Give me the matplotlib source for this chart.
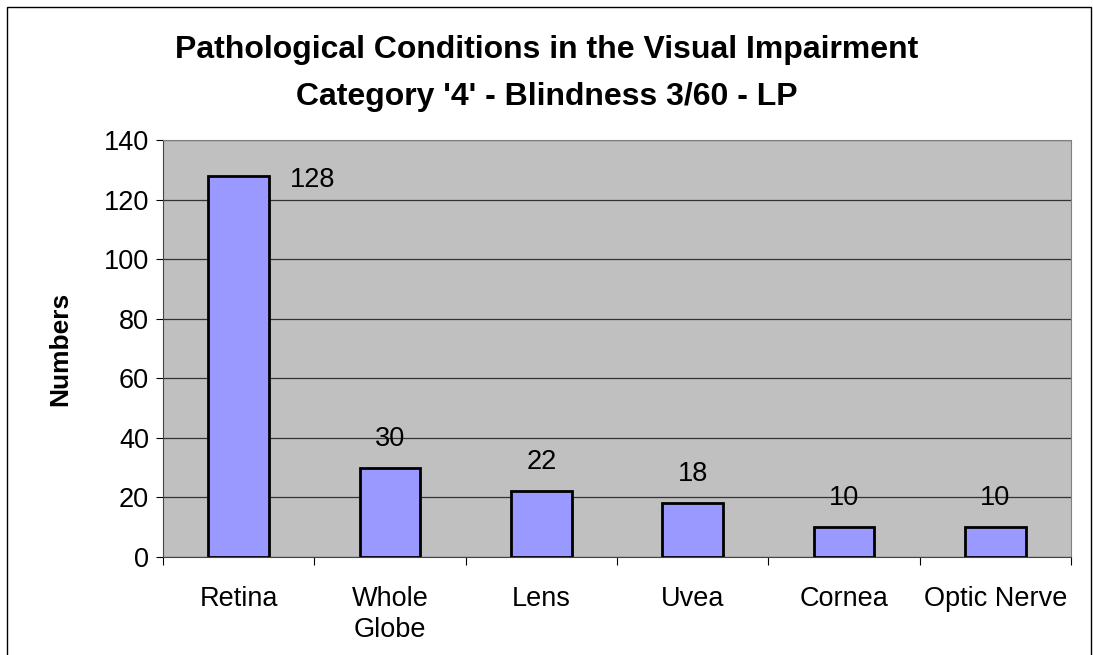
import matplotlib
matplotlib.use('Agg')
import matplotlib.pyplot as plt
from matplotlib.patches import Rectangle
import numpy as np

plt.rcParams['font.family'] = ['Liberation Sans', 'DejaVu Sans']

categories = ['Retina', 'Whole\nGlobe', 'Lens', 'Uvea', 'Cornea', 'Optic Nerve']
counts = [128, 30, 22, 18, 10, 10]
yticks = [0, 20, 40, 60, 80, 100, 120, 140]

fig = plt.figure(figsize=(10.93, 6.55), dpi=100)
ax = fig.add_axes([0.1491, 0.1496, 0.8308, 0.6367])

# outer chart frame
fig.patches.append(Rectangle((7 / 1093, -0.05), 1084 / 1093, 1.05 - 7 / 655,
                             transform=fig.transFigure, fill=False,
                             edgecolor='black', linewidth=1.0))

x = np.arange(len(categories))
ax.set_facecolor('#c0c0c0')
ax.bar(x, counts, width=0.4, color='#9999ff', edgecolor='black', linewidth=2, zorder=3)

ax.set_xlim(-0.5, len(categories) - 0.5)
ax.set_ylim(0, 140)
ax.set_yticks(yticks)
ax.tick_params(axis='y', labelsize=19.5, length=5, direction='out', pad=5)
ax.yaxis.grid(True, color='#333333', linewidth=0.9, zorder=1)
ax.set_axisbelow(True)

ax.set_xticks(np.arange(len(categories) + 1) - 0.5, minor=False)
ax.set_xticklabels([])
ax.set_xticks(x, minor=True)
ax.set_xticklabels(categories, minor=True, fontsize=19.5, linespacing=1.25)
ax.tick_params(axis='x', which='major', length=6, direction='out')
ax.tick_params(axis='x', which='minor', length=0, pad=21)

for s in ['top', 'right']:
    ax.spines[s].set_color('#808080')
for s in ['left', 'bottom']:
    ax.spines[s].set_color('#444444')

# value labels
for i, v in enumerate(counts):
    if i == 0:
        ax.text(i + 0.49, v - 1.5, str(v), fontsize=19.5, ha='center', va='center')
    else:
        ax.annotate(str(v), (i, v), xytext=(0, 29), textcoords='offset pixels',
                    fontsize=19.5, ha='center', va='center')

ax.set_ylabel('Numbers', fontsize=19, fontweight='bold')
ax.yaxis.set_label_coords((72 - 163) / 908, 0.5)

fig.text(0.5, 1 - 50 / 655, 'Pathological Conditions in the Visual Impairment',
         ha='center', va='center', fontsize=23, fontweight='bold')
fig.text(0.5, 1 - 97 / 655, "Category '4' - Blindness 3/60 - LP",
         ha='center', va='center', fontsize=23, fontweight='bold')

fig.savefig('out.png', dpi=100)
